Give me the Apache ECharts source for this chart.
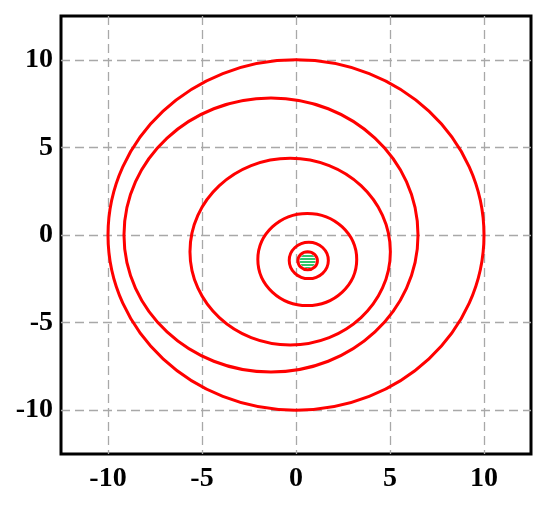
<!DOCTYPE html>
<html>
<head>
<meta charset="utf-8">
<script src="https://cdn.jsdelivr.net/npm/echarts@6/dist/echarts.min.js"></script>
<style>
  html, body { margin: 0; padding: 0; background: #fff; }
  #chart { width: 550px; height: 511px; }
</style>
</head>
<body>
<div id="chart"></div>
<script>
// circles: centre x, centre y, radius
var circleX = [0, -1.33, -0.31, 0.6, 0.68, 0.62];
var circleY = [0, 0, -0.95, -1.4, -1.45, -1.47];
var circleR = [10, 7.82, 5.33, 2.63, 1.04, 0.52];

// hatched green disc in the middle
var discX = [0.62];
var discY = [-1.47];
var discR = [0.42];

var axisMin = -12.5;
var axisMax = 12.5;

function toRows(xs, ys, rs) {
    return xs.map(function (x, i) { return [x, ys[i], rs[i]]; });
}

// striped fill: two rows green, one row white
var hatch = document.createElement('canvas');
hatch.width = 4;
hatch.height = 3;
var hctx = hatch.getContext('2d');
hctx.fillStyle = '#ffffff';
hctx.fillRect(0, 0, 4, 3);
hctx.fillStyle = '#2fc46c';
hctx.fillRect(0, 0, 4, 2);

function ellipseItem(fill, stroke, lw) {
    return function (params, api) {
        var c = api.coord([api.value(0), api.value(1)]);
        var r = api.value(2);
        var sx = api.size([r, 0])[0];
        var sy = api.size([0, r])[1];
        return {
            type: 'ellipse',
            shape: { cx: c[0], cy: c[1], rx: sx, ry: sy },
            style: { fill: fill, stroke: stroke, lineWidth: lw }
        };
    };
}

var labelStyle = {
    fontFamily: 'Liberation Serif',
    fontWeight: 'bold',
    fontSize: 28,
    color: '#000',
    formatter: function (v) {
        return v % 5 === 0 ? String(v) : '';
    }
};

var gridLine = {
    showMinLine: false,
    showMaxLine: false,
    lineStyle: { color: '#a8a8a8', type: [9, 5], width: 1.3 }
};

var myChart = echarts.init(document.getElementById('chart'));
var option = {
    animation: false,
    grid: {
        left: 61,
        top: 16,
        width: 470,
        height: 438,
        show: true,
        borderColor: '#000',
        borderWidth: 3,
        backgroundColor: 'transparent'
    },
    xAxis: {
        type: 'value',
        min: axisMin,
        max: axisMax,
        splitNumber: 5,
        axisLine: { show: false },
        axisTick: { show: false },
        axisLabel: Object.assign({ margin: 11 }, labelStyle),
        splitLine: gridLine
    },
    yAxis: {
        type: 'value',
        min: axisMin,
        max: axisMax,
        splitNumber: 5,
        axisLine: { show: false },
        axisTick: { show: false },
        axisLabel: Object.assign({ margin: 8 }, labelStyle),
        splitLine: gridLine
    },
    series: [
        {
            type: 'custom',
            renderItem: ellipseItem({ image: hatch, repeat: 'repeat' }, null, 0),
            data: toRows(discX, discY, discR),
            encode: { x: 0, y: 1 },
            z: 2
        },
        {
            type: 'custom',
            renderItem: ellipseItem(null, '#ff0000', 3),
            data: toRows(circleX, circleY, circleR),
            encode: { x: 0, y: 1 },
            z: 3
        }
    ]
};
myChart.setOption(option);
</script>
</body>
</html>
